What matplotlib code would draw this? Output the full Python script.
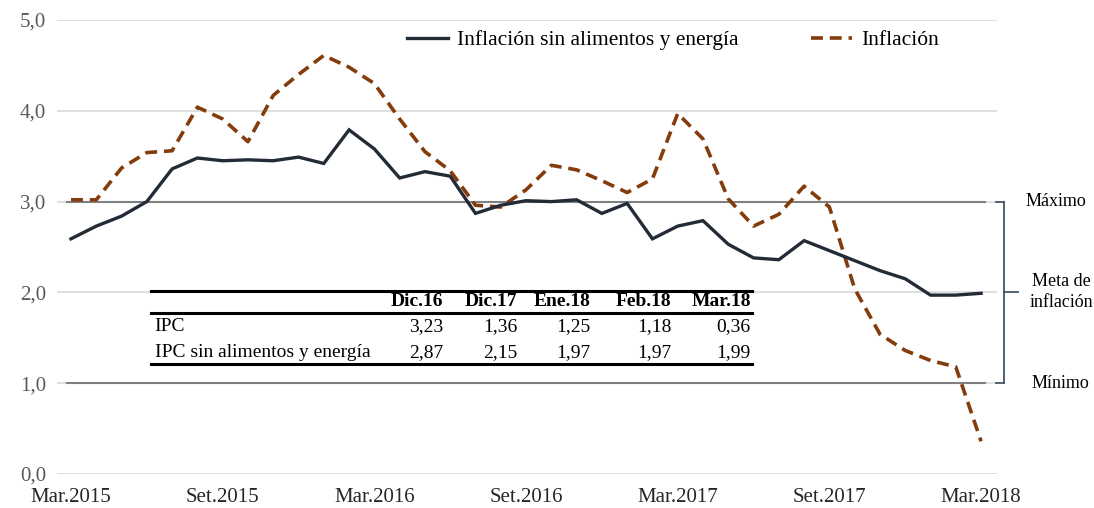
import matplotlib
matplotlib.use('Agg')
import matplotlib.pyplot as plt
import matplotlib.transforms as mtransforms
from matplotlib.lines import Line2D

plt.rcParams['font.family'] = ['Liberation Serif', 'DejaVu Serif']

# meses de Mar.2015 a Mar.2018
meses = ['Mar.2015', 'Abr.2015', 'May.2015', 'Jun.2015', 'Jul.2015', 'Ago.2015',
         'Set.2015', 'Oct.2015', 'Nov.2015', 'Dic.2015', 'Ene.2016', 'Feb.2016',
         'Mar.2016', 'Abr.2016', 'May.2016', 'Jun.2016', 'Jul.2016', 'Ago.2016',
         'Set.2016', 'Oct.2016', 'Nov.2016', 'Dic.2016', 'Ene.2017', 'Feb.2017',
         'Mar.2017', 'Abr.2017', 'May.2017', 'Jun.2017', 'Jul.2017', 'Ago.2017',
         'Set.2017', 'Oct.2017', 'Nov.2017', 'Dic.2017', 'Ene.2018', 'Feb.2018',
         'Mar.2018']

sin_alim = [2.59, 2.73, 2.84, 3.00, 3.36, 3.48, 3.45, 3.46, 3.45, 3.49, 3.42, 3.79,
            3.58, 3.26, 3.33, 3.28, 2.87, 2.96, 3.01, 3.00, 3.02, 2.87, 2.98, 2.59,
            2.73, 2.79, 2.53, 2.38, 2.36, 2.57, 2.46, 2.35, 2.24, 2.15, 1.97, 1.97,
            1.99]

inflacion = [3.02, 3.02, 3.37, 3.54, 3.56, 4.04, 3.91, 3.66, 4.17, 4.40, 4.61, 4.48,
             4.30, 3.91, 3.55, 3.34, 2.96, 2.94, 3.13, 3.40, 3.35, 3.23, 3.10, 3.25,
             3.97, 3.69, 3.03, 2.73, 2.86, 3.17, 2.94, 2.04, 1.54, 1.36, 1.25, 1.18,
             0.36]

tabla_cols = ['Dic.16', 'Dic.17', 'Ene.18', 'Feb.18', 'Mar.18']
tabla_filas = ['IPC', 'IPC sin alimentos y energía']
tabla_vals = [['3,23', '1,36', '1,25', '1,18', '0,36'],
              ['2,87', '2,15', '1,97', '1,97', '1,99']]

x = list(range(len(meses)))

fig = plt.figure(figsize=(10.94, 5.08), dpi=100)
ax = fig.add_axes([57 / 1094, 34 / 508, 940 / 1094, 454 / 508])

# grilla
for yv in [0, 2, 4, 5]:
    ax.axhline(yv, color='#D9D9D9', lw=1.2, zorder=1)
for yv in [1, 3]:
    ax.axhline(yv, color='#D9D9D9', lw=1.2, zorder=1)
    ax.plot([-0.16, 36.16], [yv, yv], color='#808080', lw=1.5, zorder=2)

ax.plot(x, sin_alim, color='#222B36', lw=2.4, zorder=4,
        label='Inflación sin alimentos y energía', solid_joinstyle='miter')
ax.plot(x, inflacion, color='#843C0C', lw=2.6, zorder=3, dashes=(3.3, 1.9),
        label='Inflación', dash_capstyle='butt')

ax.set_xlim(-0.554, 36.63)
ax.set_ylim(0, 5)
ax.set_xticks(x[::6])
ax.set_xticklabels(meses[::6], fontsize=15, color='#262626')
ax.set_yticks([0, 1, 2, 3, 4, 5])
ax.set_yticklabels(['0,0', '1,0', '2,0', '3,0', '4,0', '5,0'], fontsize=15, color='#595959')
ax.tick_params(length=0)
ax.tick_params(axis='x', pad=10)
ax.tick_params(axis='y', pad=8)
for s in ax.spines.values():
    s.set_visible(False)

ax.legend(loc='upper left', bbox_to_anchor=(0.352, 1.02), ncol=2, frameon=False,
          fontsize=15.5, handlelength=1.9, handletextpad=0.4, columnspacing=3.4)

# tabla
tr = ax.transAxes
x0, x1 = 0.1, 0.739
for yy, w in [(0.403, 2.2), (0.355, 2.2), (0.242, 2.2)]:
    ax.add_line(Line2D([x0, x1], [yy, yy], transform=tr, color='black', lw=w, zorder=6))
col_x = [0.411, 0.49, 0.568, 0.654, 0.738]
for cx, c in zip(col_x, tabla_cols):
    ax.text(cx, 0.38, c, transform=tr, ha='right', va='center', fontsize=14,
            fontweight='bold', zorder=6)
fila_y = [0.325, 0.268]
for fy, nombre, vals in zip(fila_y, tabla_filas, tabla_vals):
    ax.text(0.104, fy, nombre, transform=tr, ha='left', va='center', fontsize=14, zorder=6)
    for cx, v in zip(col_x, vals):
        ax.text(cx, fy, v, transform=tr, ha='right', va='center', fontsize=14, zorder=6)

# corchete del rango meta
bt = mtransforms.blended_transform_factory(ax.transAxes, ax.transData)
bc = '#44546A'
bx = 1.0074
ax.add_line(Line2D([bx, bx], [1, 3], transform=bt, color=bc, lw=1.3, clip_on=False))
ax.add_line(Line2D([bx - 0.008, bx], [3, 3], transform=bt, color=bc, lw=1.3, clip_on=False))
ax.add_line(Line2D([bx - 0.008, bx], [1, 1], transform=bt, color=bc, lw=1.3, clip_on=False))
ax.add_line(Line2D([bx, bx + 0.015], [2, 2], transform=bt, color=bc, lw=1.3, clip_on=False))
ax.text(1.063, 3, 'Máximo', transform=bt, ha='center', va='center', fontsize=13)
ax.text(1.069, 2.0, 'Meta de\ninflación', transform=bt, ha='center', va='center',
        fontsize=13, linespacing=1.3)
ax.text(1.067, 1, 'Mínimo', transform=bt, ha='center', va='center', fontsize=13)

fig.savefig('out.png', dpi=100)
